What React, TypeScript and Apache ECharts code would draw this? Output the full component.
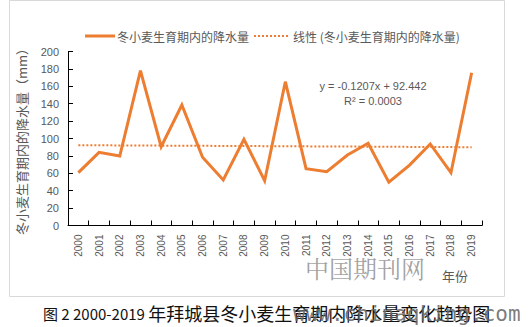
import React, { useEffect, useRef } from "react";
import * as echarts from "echarts";

const years = ["2000", "2001", "2002", "2003", "2004", "2005", "2006", "2007", "2008", "2009", "2010", "2011", "2012", "2013", "2014", "2015", "2016", "2017", "2018", "2019"];
const precipitation = [60.7, 84.1, 79.9, 177.9, 90.6, 138.5, 78.4, 52.3, 99.1, 51.5, 165.3, 65.3, 61.8, 81.0, 94.5, 49.7, 69.5, 93.7, 60.7, 175.6];
const trendEnds = [92.3, 90.0];
const seriesName = "冬小麦生育期内的降水量";
const trendName = "线性 (冬小麦生育期内的降水量)";
const yAxisName = "冬小麦生育期内的降水量（mm）";
const xAxisName = "年份";
const equationText = "y = -0.1207x + 92.442";
const r2Text = "R² = 0.0003";
const captionHead = "图 2 2000-2019 ";
const captionTail = "年拜城县冬小麦生育期内降水量变化趋势图";
const watermarkCn = "中国期刊网";
const watermarkUrl = "www.chinaqking.com";

const ORANGE = "#ED7D31";
const GRAY = "#595959";
const CJK = "'Noto Sans CJK SC', 'Noto Sans', sans-serif";
const LATIN = "'Liberation Sans', 'Noto Sans CJK SC', sans-serif";

export default function App() {
  const ref = useRef<HTMLDivElement>(null);
  useEffect(() => {
    if (!ref.current) return;
    const chart = echarts.init(ref.current, undefined, { renderer: "svg" });
    const last = years.length - 1;
    chart.setOption({
      animation: false,
      backgroundColor: "#ffffff",
      grid: { left: 68, right: 49, top: 51.5, bottom: 101.5, outerBoundsMode: "none", containLabel: false },
      xAxis: {
        type: "category",
        data: years,
        boundaryGap: true,
        axisLine: { show: true, lineStyle: { color: "#000", width: 1 } },
        axisTick: { show: true, inside: true, length: 5, lineStyle: { color: "#000" } },
        axisLabel: { rotate: 90, fontSize: 10, color: GRAY, margin: 9, fontFamily: LATIN },
        splitLine: { show: false },
      },
      yAxis: {
        type: "value",
        min: 0,
        max: 200,
        interval: 20,
        name: yAxisName,
        nameLocation: "middle",
        nameRotate: 90,
        nameGap: 40,
        nameTextStyle: { fontSize: 13, color: GRAY, fontFamily: CJK },
        axisLine: { show: true, lineStyle: { color: "#000", width: 1 } },
        axisTick: { show: true, inside: true, length: 5, lineStyle: { color: "#000" } },
        axisLabel: { fontSize: 11, color: GRAY, margin: 9, fontFamily: LATIN },
        splitLine: { show: false },
      },
      series: [
        {
          name: seriesName,
          type: "line",
          data: precipitation,
          symbol: "none",
          lineStyle: { color: ORANGE, width: 3, join: "miter" },
          itemStyle: { color: ORANGE },
        },
        {
          name: trendName,
          type: "line",
          data: [[0, trendEnds[0]], [last, trendEnds[1]]],
          symbol: "none",
          lineStyle: { color: ORANGE, width: 2, type: "dotted" },
          itemStyle: { color: ORANGE },
        },
      ],
      graphic: [
        {
          type: "rect",
          shape: { x: 9.5, y: 0.5, width: 495, height: 296 },
          style: { fill: "none", stroke: "#d9d9d9", lineWidth: 1 },
          silent: true,
        },
        {
          type: "line",
          shape: { x1: 85, y1: 36, x2: 115, y2: 36 },
          style: { stroke: ORANGE, lineWidth: 3 },
        },
        {
          type: "text",
          x: 117,
          y: 36,
          style: { text: seriesName, fill: GRAY, fontSize: 12, fontFamily: CJK, align: "left", verticalAlign: "middle" },
        },
        {
          type: "line",
          shape: { x1: 254, y1: 36, x2: 288, y2: 36 },
          style: { stroke: ORANGE, lineWidth: 2, lineDash: [2, 2] },
        },
        {
          type: "text",
          x: 293,
          y: 36,
          style: { text: trendName, fill: GRAY, fontSize: 12, fontFamily: CJK, align: "left", verticalAlign: "middle" },
        },
        {
          type: "text",
          x: 373,
          y: 86,
          style: { text: equationText, fill: GRAY, fontSize: 11, fontFamily: LATIN, align: "center", verticalAlign: "middle" },
        },
        {
          type: "text",
          x: 373,
          y: 101,
          style: { text: r2Text, fill: GRAY, fontSize: 11, fontFamily: LATIN, align: "center", verticalAlign: "middle" },
        },
        {
          type: "text",
          x: 442,
          y: 275,
          style: { text: xAxisName, fill: GRAY, fontSize: 13, fontFamily: CJK, align: "left", verticalAlign: "middle" },
        },
        {
          type: "text",
          x: 43,
          y: 313,
          style: {
            text: "{a|" + captionHead + "}{b|" + captionTail + "}",
            fill: "#111",
            fontFamily: CJK,
            align: "left",
            verticalAlign: "middle",
            rich: {
              a: { fontSize: 15, fill: "#111", fontFamily: CJK },
              b: { fontSize: 18, fill: "#111", fontFamily: CJK },
            },
          },
        },
        {
          type: "text",
          x: 305,
          y: 267,
          style: { text: watermarkCn, fill: "rgba(120,120,120,0.7)", fontSize: 24, fontFamily: "'Noto Serif CJK SC', 'Noto Sans CJK SC', serif", align: "left", verticalAlign: "middle" },
        },
        {
          type: "text",
          x: 293,
          y: 314,
          style: { text: watermarkUrl, fill: "rgba(100,100,100,0.85)", fontSize: 21, fontFamily: "'DejaVu Sans Mono', monospace", align: "left", verticalAlign: "middle" },
        },
      ],
    });
    return () => chart.dispose();
  }, []);
  return <div ref={ref} style={{ position: "fixed", left: 0, top: 0, width: 531, height: 327 }} />;
}
